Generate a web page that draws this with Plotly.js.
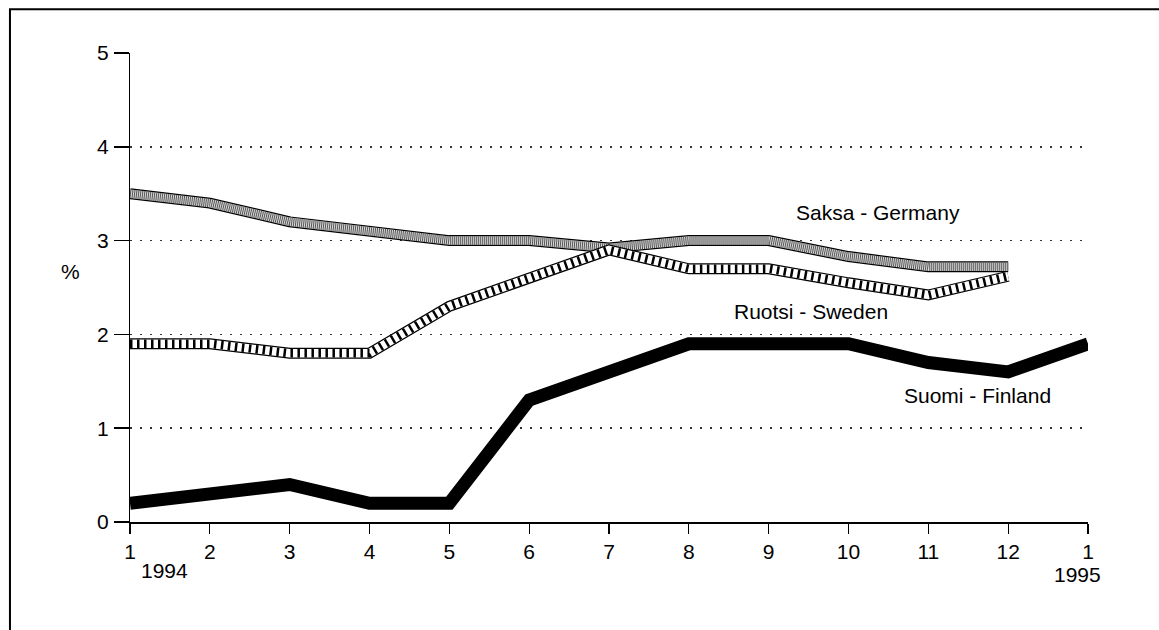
<!DOCTYPE html>
<html>
<head>
<meta charset="utf-8">
<script src="https://cdn.plot.ly/plotly-3.0.1.min.js"></script>
<style>
html,body{margin:0;padding:0;background:#fff;}
#chart{width:1159px;height:630px;}
</style>
</head>
<body>
<div id="chart"></div>
<script>
// ---- data ----
const months = [1,2,3,4,5,6,7,8,9,10,11,12,13];
const monthLabels = ["1","2","3","4","5","6","7","8","9","10","11","12","1"];
const yTicks = [0,1,2,3,4,5];
const finland = [0.2,0.3,0.4,0.2,0.2,1.3,1.6,1.9,1.9,1.9,1.7,1.6,1.9];
const sweden  = [1.9,1.9,1.8,1.8,2.3,2.6,2.9,2.7,2.7,2.55,2.42,2.62];
const germany = [3.5,3.4,3.2,3.1,3.0,3.0,2.92,3.0,3.0,2.83,2.72,2.72];
const seriesNames = ["Saksa - Germany","Ruotsi - Sweden","Suomi - Finland"];
const yearLabels = ["1994","1995"];

const FONT = "Liberation Sans, Arial, Helvetica, sans-serif";
const FS = 21;
const m12 = months.slice(0,12);

function band(x, y, fill, dash, dashColor){
  return [
    {x:x, y:y, mode:'lines', line:{color:'#000', width:11}, hoverinfo:'skip', showlegend:false},
    {x:x, y:y, mode:'lines', line:{color:fill, width:8.5}, hoverinfo:'skip', showlegend:false},
    {x:x, y:y, mode:'lines', line:{color:dashColor, width:8.5, dash:dash}, hoverinfo:'skip', showlegend:false}
  ];
}

const traces = []
  .concat(band(m12, germany, '#d8d8d8', '1px,1px', '#555'))
  .concat(band(m12, sweden, '#ffffff', '2.5px,4.5px', '#000'))
  .concat([{x:months, y:finland, mode:'lines', line:{color:'#000', width:13}, hoverinfo:'skip', showlegend:false}]);

const layout = {
  width:1159, height:630,
  margin:{l:130, r:71, t:53, b:108},
  paper_bgcolor:'#fff', plot_bgcolor:'#fff',
  font:{family:FONT, size:FS, color:'#000'},
  showlegend:false,
  xaxis:{
    range:[1,13], tickvals:months, ticktext:monthLabels,
    ticks:'outside', ticklen:10, tickwidth:1.2, tickcolor:'#000',
    showline:true, linecolor:'#000', linewidth:1.5,
    showgrid:false, zeroline:false,
    tickfont:{family:FONT, size:FS, color:'#000'}
  },
  yaxis:{
    range:[0,5], tickvals:yTicks,
    ticks:'outside', ticklen:15, tickwidth:1.5, tickcolor:'#000',
    showline:true, linecolor:'#000', linewidth:1,
    showgrid:true, gridcolor:'#333', gridwidth:1.5, griddash:'1.5px,8.5px',
    zeroline:false, ticklabelstandoff:1,
    tickfont:{family:FONT, size:FS, color:'#000'}
  },
  annotations:[
    {xref:'x', yref:'y', x:10.37, y:3.3, text:seriesNames[0], showarrow:false, xanchor:'center', yanchor:'middle', font:{family:FONT,size:FS}},
    {xref:'x', yref:'y', x:9.53, y:2.24, text:seriesNames[1], showarrow:false, xanchor:'center', yanchor:'middle', font:{family:FONT,size:FS}},
    {xref:'x', yref:'y', x:11.62, y:1.35, text:seriesNames[2], showarrow:false, xanchor:'center', yanchor:'middle', font:{family:FONT,size:FS}},
    {xref:'x', yref:'paper', x:1.43, y:-0.103, text:yearLabels[0], showarrow:false, xanchor:'center', yanchor:'middle', font:{family:FONT,size:FS}},
    {xref:'x', yref:'paper', x:12.87, y:-0.111, text:yearLabels[1], showarrow:false, xanchor:'center', yanchor:'middle', font:{family:FONT,size:FS}},
    {xref:'paper', yref:'paper', x:-0.0616, y:0.535, text:'%', showarrow:false, xanchor:'center', yanchor:'middle', font:{family:FONT,size:FS}}
  ],
  shapes:[
    {type:'path', xref:'paper', yref:'paper', path:'M -0.1253,-0.3 L -0.1253,1.0935 L 1.2,1.0935', line:{color:'#000', width:2}}
  ]
};

Plotly.newPlot('chart', traces, layout, {staticPlot:true, displayModeBar:false});
</script>
</body>
</html>
